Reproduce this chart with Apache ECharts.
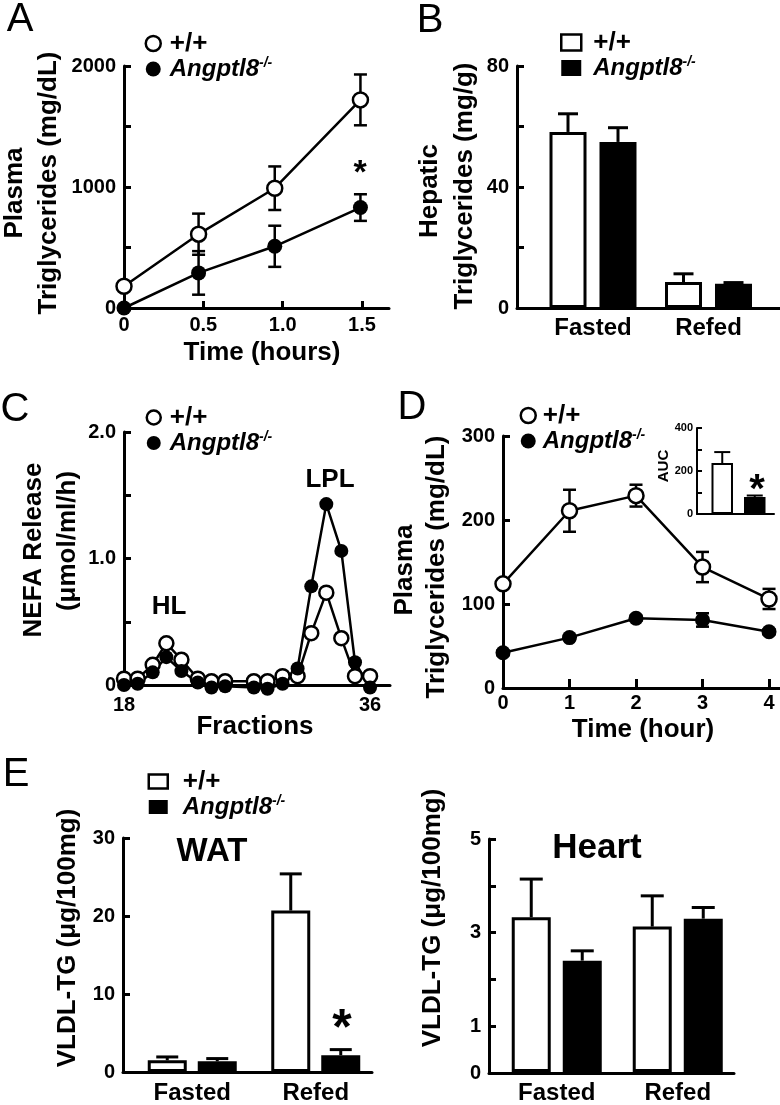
<!DOCTYPE html>
<html><head><meta charset="utf-8">
<script src="https://cdn.jsdelivr.net/npm/echarts@6/dist/echarts.min.js"></script>
<style>html,body{margin:0;padding:0;background:#fff}#c{width:780px;height:1105px}</style>
</head><body><div id="c"></div>
<script>
// ---------------- DATA ----------------
const WT = '+/+', KO = 'Angptl8-/-';
// Panel A
const aTime = [0, 0.47, 0.95, 1.49];
const aWT = [180, 610, 990, 1720];
const aWTerr = [0, 170, 180, 210];
const aKO = [0, 290, 510, 830];
const aKOerr = [0, 180, 170, 110];
const aXTicks = [0.5, 1.0, 1.5];
const aXLabels = [0, 0.5, 1.0, 1.5];
const aYTicks = [500, 1000, 1500, 2000];
const aYLabels = [0, 1000, 2000];
// Panel B
const bCats = ['Fasted', 'Refed'];
const bWT = [58.2, 8.6];
const bWTerr = [6.0, 2.7];
const bKO = [54.9, 8.0];
const bKOerr = [4.7, 0.4];
const bYTicks = [20, 40, 60, 80];
const bYLabels = [0, 40, 80];
// Panel C
const cFrac = [18, 19.0, 20.1, 21.1, 22.2, 23.4, 24.4, 25.4, 27.5, 28.5, 29.6, 30.7, 31.7, 32.8, 33.9, 34.9, 36];
const cWT = [0.05, 0.05, 0.16, 0.33, 0.20, 0.05, 0.03, 0.03, 0.03, 0.03, 0.07, 0.07, 0.41, 0.73, 0.37, 0.07, 0.07];
const cKO = [0.00, 0.01, 0.10, 0.22, 0.11, 0.02, -0.02, -0.01, -0.02, -0.03, 0.01, 0.13, 0.78, 1.43, 1.06, 0.18, -0.02];
const cYTicks = [0.5, 1.0, 1.5, 2.0];
const cYLabels = [0, 1.0, 2.0];
const cXLabels = [18, 36];
// Panel D
const dTime = [0, 1, 2, 3, 4];
const dWT = [124, 211, 229, 144, 106];
const dWTerr = [0, 25, 13, 18, 12];
const dKO = [42, 60, 83, 81, 67];
const dKOerr = [3, 3, 3, 8, 3];
const dYTicks = [100, 200, 300];
const dYLabels = [0, 100, 200, 300];
const dXTicks = [1, 2, 3, 4];
const dXLabels = [0, 1, 2, 3, 4];
// Panel D inset (AUC)
const aucCats = ['AUC'];
const aucWT = [237];
const aucWTerr = [51];
const aucKO = [79];
const aucKOerr = [7];
const aucTicks = [100, 200, 300, 400];
const aucLabels = [0, 200, 400];
// Panel E
const eCats = ['Fasted', 'Refed'];
const watWT = [1.5, 20.7];
const watWTerr = [0.43, 4.7];
const watKO = [1.37, 2.15];
const watKOerr = [0.35, 0.72];
const watTicks = [10, 20, 30];
const watLabels = [0, 10, 20, 30];
const heartWT = [3.32, 3.12];
const heartWTerr = [0.82, 0.66];
const heartKO = [2.39, 3.29];
const heartKOerr = [0.21, 0.24];
const heartTicks = [1, 2, 3, 4, 5];
const heartLabels = [0, 1, 3, 5];

// ---------------- BUILD ----------------
const FONT = "'Liberation Sans', Arial, Helvetica, sans-serif";
const grid = [], xAxis = [], yAxis = [], series = [], graphic = [], legend = [];

function addGrid(l, t, w, h) { grid.push({ left: l, top: t, width: w, height: h }); return grid.length - 1; }

const plain = v => String(v);
const fmt1 = v => (v === 0 ? '0' : v.toFixed(1));

function vAxis(g, o, pos) {
  return {
    type: 'value', gridIndex: g, min: o.min, max: o.max, position: pos,
    splitLine: { show: false },
    axisLine: { show: o.line !== false, onZero: false, lineStyle: { color: '#000', width: o.lw || 3 } },
    axisTick: { show: !!o.ticks, inside: o.tin !== false, length: o.tlen || 7, customValues: o.ticks || [],
      lineStyle: { color: '#000', width: o.lw || 3 } },
    axisLabel: { show: !!o.labels, customValues: o.labels || [], formatter: o.fmt || plain,
      margin: o.margin == null ? 8 : o.margin, color: '#000', fontFamily: FONT, fontWeight: 'bold', fontSize: o.fs || 20 }
  };
}

function errSeries(xi, yi, data, offset, cap, lw, both, z) {
  return {
    type: 'custom', xAxisIndex: xi, yAxisIndex: yi, data: data, z: z, silent: true, animation: false,
    renderItem: function (params, api) {
      const x = api.value(0), v = api.value(1), e = api.value(2);
      if (!e) return null;
      const top = api.coord([x, v + e]), bot = api.coord([x, both ? v - e : v]);
      const cx = top[0] + offset;
      const st = { stroke: '#000', lineWidth: lw };
      const ch = [
        { type: 'line', shape: { x1: cx, y1: bot[1], x2: cx, y2: top[1] }, style: st },
        { type: 'line', shape: { x1: cx - cap, y1: top[1], x2: cx + cap, y2: top[1] }, style: st }
      ];
      if (both) ch.push({ type: 'line', shape: { x1: cx - cap, y1: bot[1], x2: cx + cap, y2: bot[1] }, style: st });
      return { type: 'group', children: ch };
    }
  };
}

function lineSeries(name, xi, yi, xs, ys, open, size, lw) {
  return {
    type: 'line', name: name, xAxisIndex: xi, yAxisIndex: yi, data: xs.map((x, i) => [x, ys[i]]),
    symbol: 'circle', symbolSize: size, clip: false, z: 3, animation: false, silent: true,
    itemStyle: { color: open ? '#fff' : '#000', borderColor: '#000', borderWidth: open ? 2.5 : 0 },
    lineStyle: { color: '#000', width: lw }
  };
}

function linePanel(o) {
  const g = addGrid(o.l, o.t, o.w, o.h);
  xAxis.push(vAxis(g, o.x, 'bottom')); const xi = xAxis.length - 1;
  yAxis.push(vAxis(g, o.y, 'left')); const yi = yAxis.length - 1;
  if (o.wtErr) series.push(errSeries(xi, yi, o.xs.map((x, i) => [x, o.wt[i], o.wtErr[i]]), 0, o.cap, o.elw, true, 2));
  series.push(lineSeries(WT, xi, yi, o.xs, o.wt, true, o.size, o.lw));
  if (o.koErr) series.push(errSeries(xi, yi, o.xs.map((x, i) => [x, o.ko[i], o.koErr[i]]), 0, o.cap, o.elw, true, 2));
  series.push(lineSeries(KO, xi, yi, o.xs, o.ko, false, o.size, o.lw));
}

function barPanel(o) {
  const ga = addGrid(o.l, o.t, o.w, o.h);
  xAxis.push(vAxis(ga, { min: 0, max: 1, lw: o.lw }, 'bottom'));
  yAxis.push(vAxis(ga, o.y, 'left'));
  const gb = addGrid(o.bl, o.t, o.bw, o.h);
  xAxis.push({ type: 'category', gridIndex: gb, data: o.cats, position: 'bottom',
    axisLine: { show: false }, axisTick: { show: false },
    axisLabel: { show: !!o.catFs, fontSize: o.catFs, fontWeight: 'bold', fontFamily: FONT, color: '#000', margin: o.catMargin } });
  const xi = xAxis.length - 1;
  yAxis.push({ type: 'value', gridIndex: gb, min: o.y.min, max: o.y.max, show: false });
  const yi = yAxis.length - 1;
  const gap = o.dist / o.barW - 1;
  const off = o.dist / 2;
  const common = { type: 'bar', xAxisIndex: xi, yAxisIndex: yi, barWidth: o.barW, barGap: (gap * 100).toFixed(1) + '%', z: 2, animation: false, silent: true };
  series.push(Object.assign({ name: WT, data: o.wt, itemStyle: { color: '#fff', borderColor: '#000', borderWidth: o.bb } }, common));
  series.push(Object.assign({ name: KO, data: o.ko, itemStyle: { color: '#000', borderColor: '#000', borderWidth: o.bb } }, common));
  series.push(errSeries(xi, yi, o.wt.map((v, i) => [i, v, o.wtErr[i]]), -off, o.cap, o.elw, false, 3));
  series.push(errSeries(xi, yi, o.ko.map((v, i) => [i, v, o.koErr[i]]), off, o.cap, o.elw, false, 3));
}

// Panel A
linePanel({ l: 124, t: 66, w: 265, h: 242,
  x: { min: 0, max: 1.67, ticks: aXTicks, labels: aXLabels, fmt: fmt1, margin: 7 },
  y: { min: 0, max: 2000, ticks: aYTicks, labels: aYLabels, margin: 8 },
  xs: aTime, wt: aWT, wtErr: aWTerr, ko: aKO, koErr: aKOerr, cap: 6.5, elw: 2.5, size: 15, lw: 2.5 });
// Panel B
barPanel({ l: 517, t: 66, w: 263, h: 242, bl: 535.25, bw: 231,
  y: { min: 0, max: 80, ticks: bYTicks, labels: bYLabels, margin: 8 },
  cats: bCats, catFs: 24, catMargin: 8, wt: bWT, wtErr: bWTerr, ko: bKO, koErr: bKOerr,
  barW: 37, dist: 50, bb: 3, cap: 10, elw: 3 });
// Panel C
linePanel({ l: 124, t: 432, w: 266, h: 253,
  x: { min: 18, max: 37.46, labels: cXLabels, margin: 10 },
  y: { min: 0, max: 2, ticks: cYTicks, labels: cYLabels, fmt: fmt1, margin: 8 },
  xs: cFrac, wt: cWT, ko: cKO, size: 14, lw: 2.5 });
// Panel D
linePanel({ l: 503, t: 436, w: 277, h: 252,
  x: { min: 0, max: 4.165, ticks: dXTicks, tlen: 9, labels: dXLabels, margin: 5 },
  y: { min: 0, max: 300, ticks: dYTicks, labels: dYLabels, margin: 8 },
  xs: dTime, wt: dWT, wtErr: dWTerr, ko: dKO, koErr: dKOerr, cap: 6.5, elw: 2.5, size: 15, lw: 2.5 });
// Panel D inset
barPanel({ l: 697, t: 428, w: 77, h: 86, bl: 697, bw: 85.5, lw: 2,
  y: { min: 0, max: 400, ticks: aucTicks, tlen: 5, labels: aucLabels, fs: 11, margin: 4, lw: 2 },
  cats: aucCats, catFs: 0, wt: aucWT, wtErr: aucWTerr, ko: aucKO, koErr: aucKOerr,
  barW: 21.5, dist: 32.5, bb: 2, cap: 8, elw: 2 });
// Panel E - WAT
barPanel({ l: 123, t: 838, w: 249, h: 234, bl: 130.5, bw: 247,
  y: { min: 0, max: 30, ticks: watTicks, labels: watLabels, margin: 8 },
  cats: eCats, catFs: 24, catMargin: 9, wt: watWT, wtErr: watWTerr, ko: watKO, koErr: watKOerr,
  barW: 39, dist: 50, bb: 3, cap: 11, elw: 3 });
// Panel E - Heart
barPanel({ l: 489, t: 839, w: 245, h: 234, bl: 496.25, bw: 242,
  y: { min: 0, max: 5, ticks: heartTicks, labels: heartLabels, margin: 8 },
  cats: eCats, catFs: 24, catMargin: 9, wt: heartWT, wtErr: heartWTerr, ko: heartKO, koErr: heartKOerr,
  barW: 39, dist: 51, bb: 3, cap: 11.5, elw: 3 });

// Legends
function addLegend(left, top, icon, w, h, pad) {
  legend.push({
    show: true, orient: 'vertical', left: left, top: top, itemWidth: w, itemHeight: h, itemGap: 0, selectedMode: false, padding: 0,
    data: [
      { name: WT, icon: icon, itemStyle: { color: '#fff', borderColor: '#000', borderWidth: 2.5 } },
      { name: KO, icon: icon, itemStyle: { color: '#000', borderColor: '#000', borderWidth: 0 } }
    ],
    formatter: n => (n === WT ? '{p|+/+}' : '{i|Angptl8}{s|-/-}'),
    textStyle: {
      padding: [0, 0, 0, pad],
      rich: {
        p: { fontSize: 26, fontWeight: 'bold', fontFamily: FONT, color: '#000', lineHeight: 25 },
        i: { fontSize: 24, fontWeight: 'bold', fontStyle: 'italic', fontFamily: FONT, color: '#000', lineHeight: 25 },
        s: { fontSize: 14, fontWeight: 'bold', fontStyle: 'italic', fontFamily: FONT, color: '#000', lineHeight: 14, verticalAlign: 'top' }
      }
    }
  });
}
addLegend(144.5, 30.5, 'circle', 15, 15, 4);
addLegend(560, 29.5, 'rect', 20, 16, 7);
addLegend(145.5, 404.5, 'circle', 14, 14, 4);
addLegend(519.5, 402.5, 'circle', 15, 15, 2);
addLegend(147.5, 768.5, 'rect', 19, 14, 10);

// Texts
function txt(x, y, text, size, opt) {
  opt = opt || {};
  graphic.push({ type: 'text', x: x, y: y, rotation: opt.rot ? Math.PI / 2 : 0, z: 100, silent: true,
    style: { text: text, font: (opt.w || 'bold') + ' ' + size + 'px ' + FONT, fill: '#000',
      align: 'center', verticalAlign: 'middle', textAlign: 'center', textVerticalAlign: 'middle' } });
}
// panel letters
txt(20, 20, 'A', 40, { w: 'normal' });
txt(430, 21, 'B', 40, { w: 'normal' });
txt(15, 410, 'C', 40, { w: 'normal' });
txt(412, 408, 'D', 40, { w: 'normal' });
txt(16, 775, 'E', 40, { w: 'normal' });
// y titles
txt(15, 193, 'Plasma', 26, { rot: 1 });
txt(49, 183, 'Triglycerides (mg/dL)', 26, { rot: 1 });
txt(430, 191, 'Hepatic', 26, { rot: 1 });
txt(465, 186, 'Triglycerides (mg/g)', 26, { rot: 1 });
txt(34, 550, 'NEFA Release', 26, { rot: 1 });
txt(68, 541, '(μmol/ml/h)', 26, { rot: 1 });
txt(405, 570, 'Plasma', 26, { rot: 1 });
txt(437, 567, 'Triglycerides (mg/dL)', 26, { rot: 1 });
txt(68, 938, 'VLDL-TG (μg/100mg)', 26, { rot: 1 });
txt(433, 918, 'VLDL-TG (μg/100mg)', 26, { rot: 1 });
txt(664, 466, 'AUC', 15, { rot: 1 });
// x titles
txt(262, 353, 'Time (hours)', 26);
txt(255, 727, 'Fractions', 26);
txt(643, 730, 'Time (hour)', 26);
// annotations
txt(169, 607, 'HL', 26);
txt(330, 480, 'LPL', 26);
txt(212, 852, 'WAT', 33);
txt(597, 848, 'Heart', 35);
txt(360, 174, '*', 34);
txt(757, 491, '*', 40);
txt(342, 1030, '*', 50);

const chart = echarts.init(document.getElementById('c'), null, { renderer: 'canvas' });
chart.setOption({ animation: false, backgroundColor: '#fff', grid, xAxis, yAxis, series, legend, graphic });
</script></body></html>
